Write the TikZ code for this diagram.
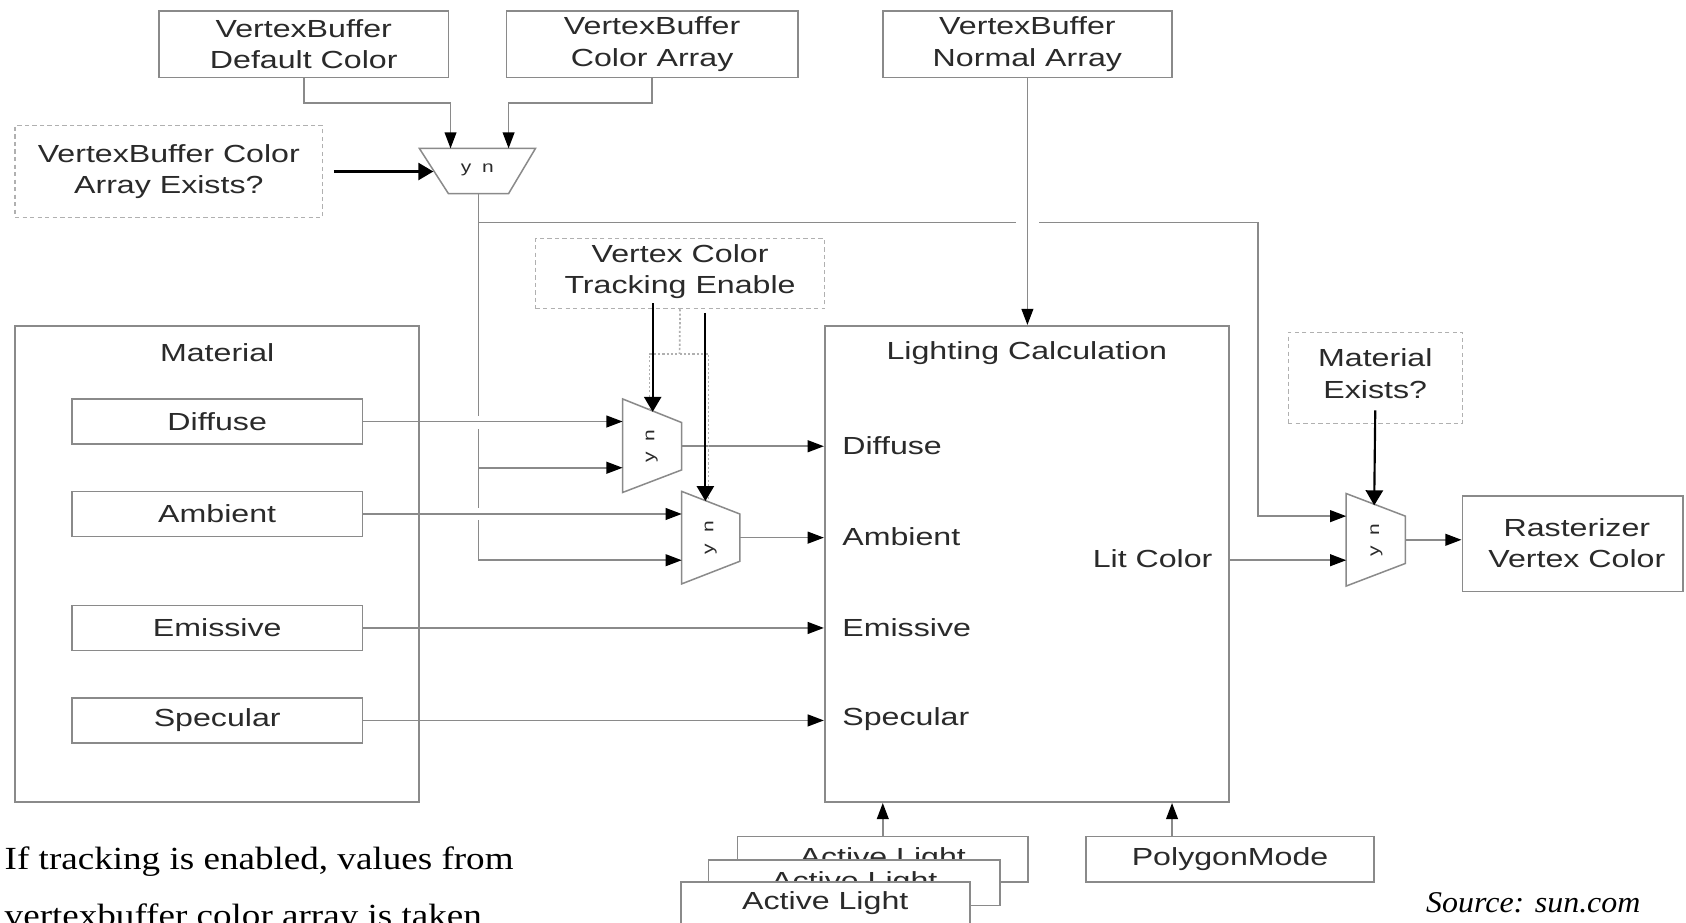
\documentclass[tikz,border=0pt]{standalone}
\usepackage{fontspec}
\newfontfamily\lblfont[FakeStretch=1.3]{Liberation Sans}
\newfontfamily\notefont[FakeStretch=1.15]{Liberation Serif}
\newfontfamily\srcfont[FakeStretch=1.06]{Liberation Serif}
\usetikzlibrary{arrows.meta,fit}
\definecolor{edge}{HTML}{8A8A8A}
\definecolor{ink}{HTML}{2A2A2A}
\definecolor{dots}{HTML}{B0B0B0}
\newcommand\diaglabel{\lblfont\fontsize{11.5pt}{14.5pt}\selectfont}
\newcommand\muxlabel{\lblfont\fontsize{7.5pt}{9pt}\selectfont}
\tikzset{
  box/.style={draw=edge, line width=0.8pt, inner sep=0pt},
  qbox/.style={box, draw=dots, line width=0.6pt, dash pattern=on 2pt off 1.5pt},
  txt/.style={font=\diaglabel, text=ink, inner sep=0pt, align=center},
  wire/.style={draw=edge, line width=0.7pt},
  feed/.style={wire, -{Triangle[length=7.5pt,width=5.5pt,color=black]}},
  sel/.style={draw=black, line width=1pt, -{Triangle[length=7pt,width=8pt]}},
  dotwire/.style={draw=dots, line width=0.8pt, dash pattern=on 1pt off 1pt},
  mux/.style={draw=edge, line width=0.7pt, fill=white},
  muxtxt/.style={font=\muxlabel, text=ink, inner sep=0pt},
  note/.style={font=\notefont\fontsize{15pt}{18pt}\selectfont, text=black, inner sep=0pt},
  src/.style={font=\srcfont\itshape\fontsize{14pt}{17pt}\selectfont, text=black, inner sep=0pt},
}
\begin{document}
\begin{tikzpicture}[x=0.5pt,y=-0.5pt]
\useasboundingbox (0,0) rectangle (1568,858);
\clip (0,0) rectangle (1568,858);
\fill[white] (0,0) rectangle (1568,858);

% vertex buffer sources
\node[box, fit={(148,10)(417,72)}] (vbdef) {};
\node[txt] at (vbdef.center) {VertexBuffer\\Default Color};
\node[box, fit={(471,10)(742,72)}] (vbcol) {};
\node[txt] at (vbcol.center) {VertexBuffer\\Color Array};
\node[box, fit={(821,10)(1090,72)}] (vbnorm) {};
\node[txt] at (vbnorm.center) {VertexBuffer\\Normal Array};
\node[qbox, fit={(14,117)(300,202)}] (colex) {};
\node[txt] at (colex.center) {VertexBuffer Color\\Array Exists?};

% colour source selector
\draw[mux] (390,138) -- (498,138) -- (473,180) -- (417,180) -- cycle;
\coordinate (m0l) at (403,159);
\coordinate (m0y) at (419,138);
\coordinate (m0n) at (473,138);
\coordinate (m0o) at (445,180);
\node[muxtxt] (m0t) at (444,158) {y\hspace{5pt}n};

\draw[feed] (vbdef.south) -- ++(0,23) -| (m0y);
\draw[feed] (vbcol.south) -- ++(0,23) -| (m0n);
\draw[sel] ([xshift=5pt]colex.east) -- (colex.east -| m0l);

% material block
\node[box, fit={(14,303)(390,746)}] (mat) {};
\node[txt] (matt) at (202,328) {Material};
\node[box, fit={(67,371)(337,413)}] (mdif) {};
\node[txt] at (mdif.center) {Diffuse};
\node[box, fit={(67,457)(337,499)}] (mamb) {};
\node[txt] at (mamb.center) {Ambient};
\node[box, fit={(67,563)(337,605)}] (memi) {};
\node[txt] at (memi.center) {Emissive};
\node[box, fit={(67,649)(337,691)}] (mspe) {};
\node[txt] at (mspe.center) {Specular};

% lighting block
\node[box, fit={(767,303)(1143,746)}] (lit) {};
\node[txt] (litt) at (955,328) {Lighting Calculation};
\node[txt, anchor=west] (ldif) at (783,414) {Diffuse};
\node[txt, anchor=west] (lamb) at (783,499) {Ambient};
\node[txt, anchor=west] (lemi) at (783,584) {Emissive};
\node[txt, anchor=west] (lspe) at (783,669) {Specular};
\node[txt, anchor=east] (lcol) at (1128,520) {Lit Color};

% tracking selectors
\draw[mux] (579,371) -- (634,393) -- (634,437) -- (579,458) -- cycle;
\node[muxtxt, rotate=90] (m1t) at (606,415) {y\hspace{5pt}n};
\coordinate (m1a) at (579,392);
\coordinate (m1b) at (579,435);
\coordinate (m1o) at (634,415);
\coordinate (m1s) at (607,383);

\draw[mux] (634,457) -- (688,478) -- (688,522) -- (634,543) -- cycle;
\node[muxtxt, rotate=90] (m2t) at (661,500) {y\hspace{5pt}n};
\coordinate (m2a) at (634,478);
\coordinate (m2b) at (634,521);
\coordinate (m2o) at (688,500);
\coordinate (m2s) at (656,466);

% final selector and output
\draw[mux] (1252,459) -- (1307,480) -- (1307,524) -- (1252,545) -- cycle;
\node[muxtxt, rotate=90] (m3t) at (1280,502) {y\hspace{5pt}n};
\coordinate (m3a) at (1252,480);
\coordinate (m3b) at (1252,521);
\coordinate (m3o) at (1307,502);
\coordinate (m3s) at (1278,470);

\node[box, fit={(1360,461)(1565,550)}] (rast) {};
\node[txt] at ([xshift=2pt]rast.center) {Rasterizer\\Vertex Color};
\node[qbox, fit={(1198,309)(1360,394)}] (matex) {};
\node[txt] at ([yshift=2pt]matex.center) {Material\\Exists?};
\node[qbox, fit={(498,222)(767,287)}] (vct) {};
\node[txt] at ([yshift=1pt]vct.center) {Vertex Color\\Tracking Enable};

% selected vertex colour distribution
\coordinate (tap) at (445,207);
\coordinate (bend) at (1170,207);
\draw[feed] (m0o) |- (m2b);
\draw[feed] (m0o |- m1b) -- (m1b);
\draw[feed] (tap) -- (bend) |- (m3a);

% line jumps
\fill[white] (440,387) rectangle (450,399);
\fill[white] (440,472) rectangle (450,484);
\fill[white] (945,202) rectangle (966,212);

\draw[feed] (vbnorm.south) -- (vbnorm.south |- lit.north);
\draw[feed] (mdif.east) -- (m1a);
\draw[feed] (mamb.east) -- (m2a);
\draw[feed] (memi.east) -- (memi.east -| lit.west);
\draw[feed] (mspe.east) -- (mspe.east -| lit.west);
\draw[feed] (m1o) -- (m1o -| lit.west);
\draw[feed] (m2o) -- (m2o -| lit.west);
\draw[feed] (lit.east |- m3b) -- (m3b);
\draw[feed] (m3o) -- (m3o -| rast.west);

% tracking enable fan-out
\draw[dotwire] (vct.south) -- (632,329);
\draw[dotwire] (604,381) -- (604,329) -- (659,329) -- (659,466);
\draw[sel] (607,282) -- (m1s);
\draw[sel] (656,291) -- (m2s);
\draw[sel] ([yshift=6.5pt]matex.south) -- (m3s);

% light sources and polygon mode
\node[box, fill=white, fit={(686,778)(956,820)}] (al3) {};
\node[txt] at (al3.center) {Active Light};
\node[box, fill=white, fit={(659,800)(930,842)}] (al2) {};
\node[txt] at (al2.center) {Active Light};
\node[box, fill=white, fit={(633,820)(902,860)}] (al1) {};
\node[txt] at (al1.center) {Active Light};
\draw[feed] (al3.north) -- (al3.north |- lit.south);
\node[box, fit={(1010,778)(1278,820)}] (pmode) {};
\node[txt] at (pmode.center) {PolygonMode};
\draw[feed] ([xshift=-27pt]pmode.north) -- ([xshift=-27pt]pmode.north |- lit.south);

% notes
\node[note, anchor=base west] (n1) at (4,809) {If tracking is enabled, values from};
\node[note, anchor=base west] (n2) at (4,862) {vertexbuffer color array is taken};
\node[src, anchor=base west] (srcnote) at (1326,849) {Source: sun.com};
\end{tikzpicture}
\end{document}
